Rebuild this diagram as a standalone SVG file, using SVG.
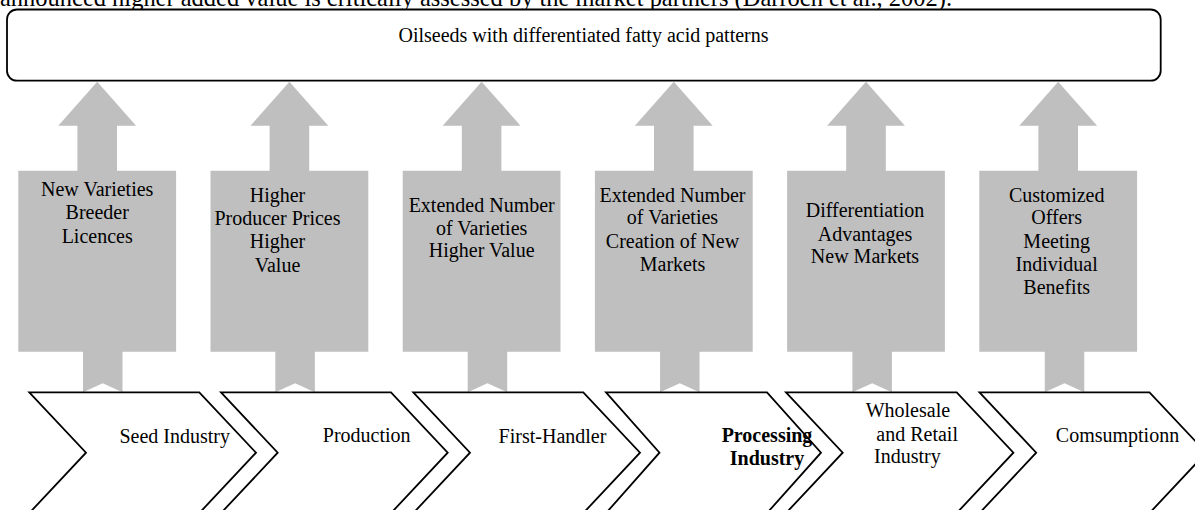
<svg xmlns="http://www.w3.org/2000/svg" width="1195" height="510" viewBox="0 0 1195 510">
<style>
  text { font-family: "Liberation Serif", "Times New Roman", serif; font-size: 20px; fill: #000; }
  .c { text-anchor: middle; }
  .b { font-weight: bold; }
  .gray { fill: #bfbfbf; stroke: none; }
  .chev { fill: #fff; stroke: #000; stroke-width: 1.8; stroke-linejoin: miter; }
  .box { fill: #fff; stroke: #000; stroke-width: 1.8; }
</style>
<rect width="1195" height="510" fill="#fff"/>
<text x="0" y="5.5" style="font-size:24.5px" textLength="952" lengthAdjust="spacingAndGlyphs">announced higher added value is critically assessed by the market partners (Darroch et al., 2002).</text>

<g id="top-box">
  <rect class="box" x="7" y="9.5" width="1153.7" height="71.2" rx="10" ry="10"/>
  <text class="c" x="583.5" y="41.7">Oilseeds with differentiated fatty acid patterns</text>
</g>

<g id="connectors">
  <path class="gray" d="M83,351 V392.3 L102.75,383.3 L122.5,392.3 V351 Z"/>
  <path class="gray" d="M275.35,351 V392.3 L295.1,383.3 L314.85,392.3 V351 Z"/>
  <path class="gray" d="M467.7,351 V392.3 L487.45,383.3 L507.2,392.3 V351 Z"/>
  <path class="gray" d="M660.05,351 V392.3 L679.8,383.3 L699.55,392.3 V351 Z"/>
  <path class="gray" d="M852.4,351 V392.3 L872.15,383.3 L891.9,392.3 V351 Z"/>
  <path class="gray" d="M1044.75,351 V392.3 L1064.5,383.3 L1084.25,392.3 V351 Z"/>
</g>

<g id="benefit-seed">
  <path class="gray" d="M18.3,351.7 V170.7 H77.4 V125.7 H58.3 L97.2,81.7 L136.1,125.7 H117 V170.7 H176.1 V351.7 Z"/>
  <text class="c" x="97.2" y="196">New Varieties</text>
  <text class="c" x="97.2" y="219.3">Breeder</text>
  <text class="c" x="97.2" y="242.7">Licences</text>
</g>
<g id="benefit-production">
  <path class="gray" d="M210.5,351.7 V170.7 H269.6 V125.7 H250.5 L289.4,81.7 L328.3,125.7 H309.2 V170.7 H368.3 V351.7 Z"/>
  <text class="c" x="277.5" y="201.7">Higher</text>
  <text class="c" x="277.5" y="225">Producer Prices</text>
  <text class="c" x="277.5" y="248.3">Higher</text>
  <text class="c" x="277.5" y="271.7">Value</text>
</g>
<g id="benefit-first-handler">
  <path class="gray" d="M402.7,351.7 V170.7 H461.8 V125.7 H442.7 L481.6,81.7 L520.5,125.7 H501.4 V170.7 H560.5 V351.7 Z"/>
  <text class="c" x="481.7" y="211.7">Extended Number</text>
  <text class="c" x="481.7" y="235">of Varieties</text>
  <text class="c" x="481.7" y="257.3">Higher Value</text>
</g>
<g id="benefit-processing">
  <path class="gray" d="M594.9,351.7 V170.7 H654 V125.7 H634.9 L673.8,81.7 L712.7,125.7 H693.6 V170.7 H752.7 V351.7 Z"/>
  <text class="c" x="672.5" y="201.7">Extended Number</text>
  <text class="c" x="672.5" y="224.3">of Varieties</text>
  <text class="c" x="672.5" y="247.7">Creation of New</text>
  <text class="c" x="672.5" y="271">Markets</text>
</g>
<g id="benefit-wholesale">
  <path class="gray" d="M787.1,351.7 V170.7 H846.2 V125.7 H827.1 L866,81.7 L904.9,125.7 H885.8 V170.7 H944.9 V351.7 Z"/>
  <text class="c" x="865" y="217.3">Differentiation</text>
  <text class="c" x="865" y="240.7">Advantages</text>
  <text class="c" x="865" y="263.3">New Markets</text>
</g>
<g id="benefit-consumption">
  <path class="gray" d="M979.3,351.7 V170.7 H1038.4 V125.7 H1019.3 L1058.2,81.7 L1097.1,125.7 H1078 V170.7 H1137.1 V351.7 Z"/>
  <text class="c" x="1056.7" y="201.7">Customized</text>
  <text class="c" x="1056.7" y="224.3">Offers</text>
  <text class="c" x="1056.7" y="247.7">Meeting</text>
  <text class="c" x="1056.7" y="270.7">Individual</text>
  <text class="c" x="1056.7" y="294">Benefits</text>
</g>

<g id="stage-seed-industry">
  <path class="chev" d="M29.3,392.3 H199.3 L256,452.7 L199.3,513.1 H29.3 L86,452.7 Z"/>
  <text class="c" x="174.7" y="443.3">Seed Industry</text>
</g>
<g id="stage-production">
  <path class="chev" d="M221,392.3 H391 L447.7,452.7 L391,513.1 H221 L277.7,452.7 Z"/>
  <text class="c" x="366.7" y="441.7">Production</text>
</g>
<g id="stage-first-handler">
  <path class="chev" d="M413.3,392.3 H583.3 L640,452.7 L583.3,513.1 H413.3 L470,452.7 Z"/>
  <text class="c" x="552.5" y="442.7">First-Handler</text>
</g>
<g id="stage-processing">
  <path class="chev" d="M606,392.3 H767 L821,452.7 L767,513.1 H606 L659.5,452.7 Z"/>
  <text class="c b" x="767" y="442.3">Processing</text>
  <text class="c b" x="767" y="465">Industry</text>
</g>
<g id="stage-wholesale">
  <path class="chev" d="M786,392.3 H956.7 L1013.4,452.7 L956.7,513.1 H786 L842.7,452.7 Z"/>
  <text x="865.7" y="417.3">Wholesale</text>
  <text x="876.3" y="440.7">and Retail</text>
  <text x="874" y="463.3">Industry</text>
</g>
<g id="stage-consumption">
  <path class="chev" d="M979.5,392.3 H1149.5 L1206.2,452.7 L1149.5,513.1 H979.5 L1036.2,452.7 Z"/>
  <text class="c" x="1117.5" y="442.3">Comsumptionn</text>
</g>
</svg>
